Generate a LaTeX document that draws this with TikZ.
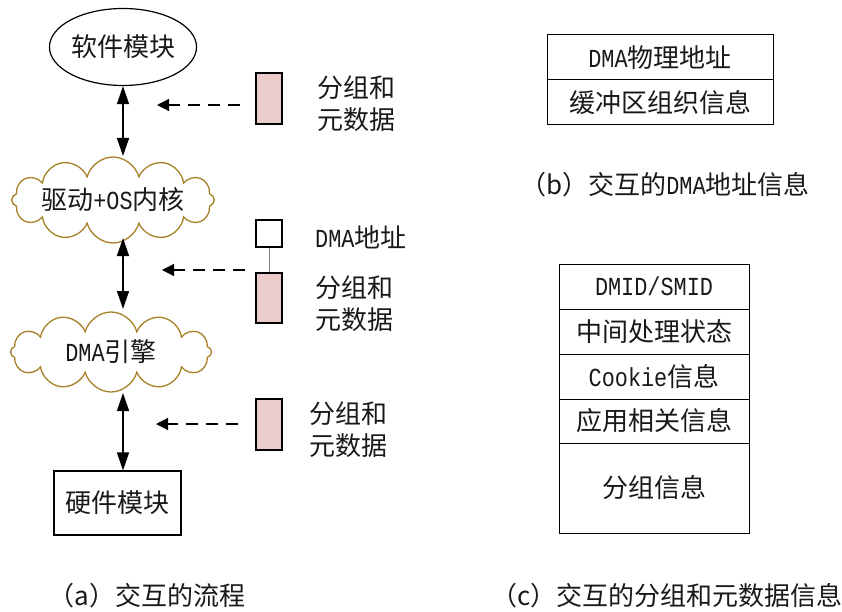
\documentclass[tikz,border=0pt]{standalone}
\usepackage{fontspec}
\setmainfont{Noto Sans CJK SC}
\newfontfamily\lat[FakeStretch=0.84]{Liberation Mono}
\usetikzlibrary{shapes.geometric,shapes.symbols,arrows.meta}
\definecolor{cloudline}{RGB}{166,128,38}
\definecolor{pinkfill}{RGB}{234,204,204}
\begin{document}
\begin{tikzpicture}[x=1pt,y=-1pt,
  every node/.style={font=\fontsize{26}{32}\selectfont, inner sep=0pt, text=black!90},
  bidir/.style={{Triangle[length=18pt,width=12pt]}-{Triangle[length=18pt,width=12pt]}, line width=1.5pt},
  feed/.style={-{Triangle[length=12pt,width=12pt]}, line width=1.2pt, dash pattern=on 12pt off 8pt},
  puff/.style={cloud, cloud puffs=12, cloud ignores aspect, draw=cloudline, line width=1.3pt},
  pkt/.style={draw, line width=1.2pt, fill=pinkfill, minimum width=26pt, minimum height=51pt},
  cell/.style={draw, line width=1pt, minimum width=#1},
  captext/.style={font=\fontsize{26}{30}\selectfont}
]
\useasboundingbox (0,0) rectangle (842,612);

% (a) interaction flow
\node[ellipse, draw, line width=1.2pt, minimum width=127pt, minimum height=77pt] (sw) at (123,47) {软件模块};
\node[puff, minimum width=195pt, minimum height=86pt] (drv) at (113,200) {驱动{\lat +OS}内核};
\node[puff, minimum width=201pt, minimum height=80pt] (dma) at (111,352) {{\lat DMA}引擎};
\node[draw, line width=1.2pt, minimum width=127pt, minimum height=64pt] (hw) at (117.5,503) {硬件模块};

\draw[bidir] (sw.south) -- (123,156);
\draw[bidir] (123,238) -- (123,309);
\draw[bidir] (123,393) -- (hw.north -| 123,0);

% packets and metadata handed over at each stage
\node[pkt] (p1) at (269,98.5) {};
\node[pkt, minimum height=50pt] (p2) at (269,298) {};
\node[pkt] (p3) at (269,424.5) {};
\node[draw, line width=1.2pt, fill=white, minimum width=26pt, minimum height=27pt] (addr) at (269,233.5) {};
\draw[gray, line width=0.7pt] (addr.south) -- (p2.north);

\node[anchor=west, align=left] (l1) at (317,104) {分组和\\元数据};
\node[anchor=west] (la) at (315,237) {{\lat DMA}地址};
\node[anchor=west, align=left] (l2) at (315,304) {分组和\\元数据};
\node[anchor=west, align=left] (l3) at (309,430) {分组和\\元数据};

\coordinate (s1) at (240,105);  \coordinate (t1) at (157,105);
\coordinate (s2) at (245,270);  \coordinate (t2) at (162,270);
\coordinate (s3) at (238,424);  \coordinate (t3) at (156,424);
\draw[feed] (s1) -- (t1);
\draw[feed] (s2) -- (t2);
\draw[feed] (s3) -- (t3);

\node[captext] (ca) at (147,596) {（a）交互的流程};

% (b) DMA address information
\node[cell=226pt, minimum height=45pt] (b1) at (660,57.5) {{\lat DMA}物理地址};
\node[cell=226pt, minimum height=45pt] (b2) at (660,102.5) {缓冲区组织信息};
\node[captext] (cb) at (665,185) {（b）交互的{\lat DMA}地址信息};

% (c) packet and metadata information
\node[cell=190pt, minimum height=45pt] (c1) at (654,286.5) {\lat DMID/SMID};
\node[cell=190pt, minimum height=45pt] (c2) at (654,331.5) {中间处理状态};
\node[cell=190pt, minimum height=45pt] (c3) at (654,376.5) {{\lat Cookie}信息};
\node[cell=190pt, minimum height=44pt] (c4) at (654,421) {应用相关信息};
\node[cell=190pt, minimum height=90pt] (c5) at (654,488) {分组信息};
\node[captext] (cc) at (667,596) {（c）交互的分组和元数据信息};
\end{tikzpicture}
\end{document}
